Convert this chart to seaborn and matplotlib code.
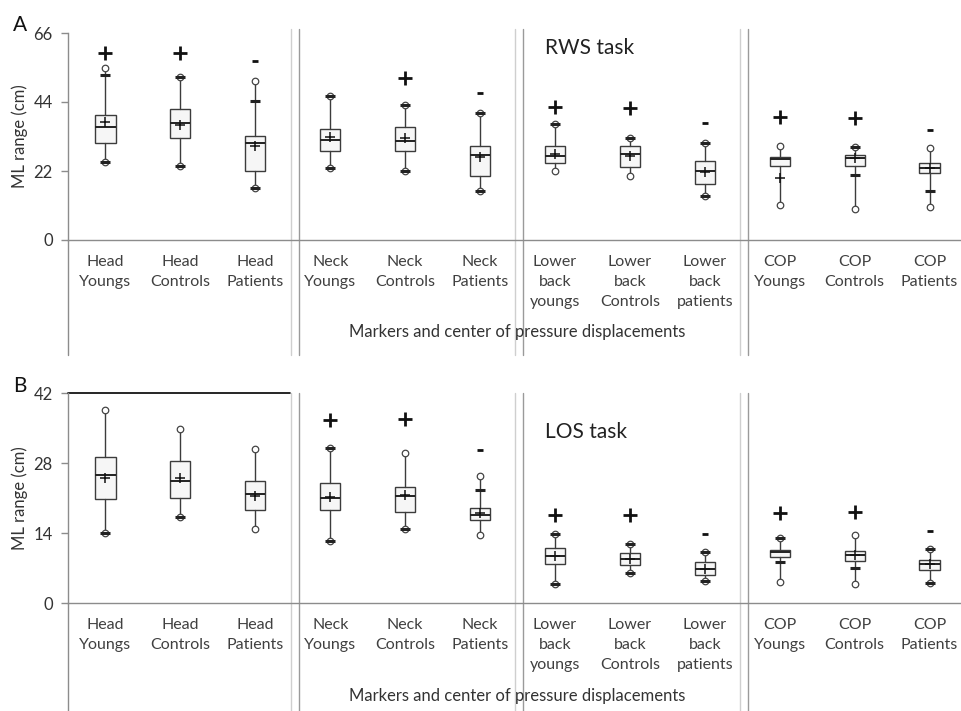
import numpy as np
import pandas as pd
import matplotlib.pyplot as plt
import matplotlib.transforms as mtransforms
import seaborn as sns

nan = np.nan

# category labels (shared by both panels)
labels = ["Head\nYoungs", "Head\nControls", "Head\nPatients",
          "Neck\nYoungs", "Neck\nControls", "Neck\nPatients",
          "Lower\nback\nyoungs", "Lower\nback\nControls", "Lower\nback\npatients",
          "COP\nYoungs", "COP\nControls", "COP\nPatients"]

# Panel A - RWS task (ML range, cm)
hi_circ_a = [54.7, 51.9, 50.8, 46.0, 43.0, 40.6, 37.0, 32.4, 30.8, 30.1, 29.6, 29.2]
hi_dash_a = [52.5, 51.9, 44.3, 46.0, 43.0, 40.6, 37.0, 32.4, 30.8, nan, 29.6, nan]
q3_a = [39.9, 41.7, 33.3, 35.4, 36.1, 30.0, 30.0, 30.0, 25.3, 26.6, 27.1, 24.5]
med_a = [36.1, 37.2, 30.8, 31.9, 31.7, 27.1, 26.8, 27.4, 22.1, 25.8, 26.0, 22.9]
mean_a = [37.7, 36.7, 30.0, 32.9, 32.6, 26.4, 27.4, 26.8, 21.6, 19.9, 26.0, 22.9]
q1_a = [30.8, 32.4, 22.0, 28.5, 28.5, 20.4, 24.5, 23.4, 17.9, 23.7, 23.7, 21.3]
lo_dash_a = [25.0, 23.7, 16.5, 23.1, 22.0, 15.7, nan, nan, 14.0, nan, 20.7, 15.6]
lo_circ_a = [25.0, 23.7, 16.5, 23.1, 22.0, 15.7, 22.0, 20.4, 14.0, 11.2, 9.8, 10.4]
sig_a = ["+", "+", "-", "", "+", "-", "+", "+", "-", "+", "+", "-"]
sig_y_a = [59.5, 59.5, 57.2, nan, 51.6, 47.0, 42.3, 42.0, 37.2, 39.1, 38.8, 35.1]

# Panel B - LOS task (ML range, cm)
hi_circ_b = [38.6, 34.9, 30.8, 31.1, 30.1, 25.5, 13.9, 11.9, 10.3, 13.1, 13.6, 10.9]
hi_dash_b = [nan, nan, nan, 31.1, nan, 22.6, 13.9, 11.9, 10.3, 13.1, nan, 10.9]
q3_b = [29.3, 28.5, 24.4, 24.1, 23.3, 19.1, 11.1, 10.1, 8.3, 10.6, 10.5, 8.7]
med_b = [25.7, 24.4, 21.8, 21.1, 21.4, 17.6, 9.4, 8.9, 6.9, 10.3, 9.6, 7.9]
mean_b = [25.1, 25.1, 21.4, 21.3, 21.6, 18.1, 9.4, 8.9, 6.9, nan, 9.6, 7.9]
q1_b = [20.9, 21.1, 18.6, 18.6, 18.3, 16.6, 7.9, 7.7, 5.6, 9.3, 8.4, 6.6]
lo_dash_b = [14.1, 17.3, nan, 12.5, 14.9, nan, 3.8, 6.1, 4.5, 8.3, 7.1, 4.1]
lo_circ_b = [14.1, 17.3, 14.9, 12.5, 14.9, 13.7, 3.8, 6.1, 4.5, 4.3, 3.9, 4.1]
sig_b = ["", "", "", "+", "+", "-", "+", "+", "-", "+", "+", "-"]
sig_y_b = [nan, nan, nan, 36.6, 36.8, 30.6, 17.6, 17.7, 13.9, 18.1, 18.3, 14.5]

sns.set_theme(style="white")
plt.rcParams["font.family"] = ["Lato", "DejaVu Sans"]

EDGE = "#3c3c3c"
AXC = "#8c8c8c"


def draw_panel(ax, q1, med, q3, mean, lo_c, hi_c, lo_d, hi_d, sig, sig_y,
               ymax, title, title_y, below):
    n = len(labels)
    stats = []
    for i in range(n):
        stats.append(dict(med=med[i], q1=q1[i], q3=q3[i],
                          whislo=lo_c[i], whishi=hi_c[i], fliers=[]))
    ax.bxp(stats, positions=range(n), widths=0.27, patch_artist=True,
           showcaps=False, showfliers=False,
           boxprops=dict(facecolor="#f6f6f6", edgecolor=EDGE, linewidth=1),
           whiskerprops=dict(color=EDGE, linewidth=1),
           medianprops=dict(color="#222222", linewidth=1.4))

    # whisker-end circles
    pts = pd.DataFrame({"x": list(range(n)) * 2, "y": list(lo_c) + list(hi_c)})
    sns.scatterplot(data=pts, x="x", y="y", ax=ax, marker="o", s=22,
                    facecolor="white", edgecolor="#444444", linewidth=0.9,
                    zorder=4, legend=False)
    # percentile dashes
    for vals in (lo_d, hi_d):
        for i, v in enumerate(vals):
            if not np.isnan(v):
                ax.plot(i, v, marker="_", ms=7, mew=2.2, color="#222222", zorder=5)
    # means
    for i, v in enumerate(mean):
        if not np.isnan(v):
            ax.plot(i, v, marker="+", ms=7, mew=1.1, color="#111111", zorder=5)
    # significance symbols
    for i, (s, v) in enumerate(zip(sig, sig_y)):
        if s == "+":
            ax.plot(i, v, marker="+", ms=10, mew=2.0, color="#111111")
        elif s == "-":
            ax.plot(i, v, marker="_", ms=5, mew=2.0, color="#111111")

    ax.set_xlim(-0.5, n - 0.5)
    ax.set_ylim(0, ymax)
    ax.set_yticks(np.linspace(0, ymax, 4))
    ax.set_yticklabels([str(int(t)) for t in np.linspace(0, ymax, 4)])
    ax.set_xticks(range(n))
    ax.set_xticklabels(labels, fontsize=11.5, color="#404040", linespacing=1.55,
                       va="top")
    ax.set_xticks(np.arange(-0.5, n, 1), minor=True)
    ax.tick_params(axis="x", which="major", length=0, pad=11)
    ax.tick_params(axis="x", which="minor", length=4, color=AXC, width=1)
    ax.tick_params(axis="y", length=5, color=AXC, width=1, pad=6,
                   labelsize=12, labelcolor="#333333", left=True)
    for sp in ("top", "right"):
        ax.spines[sp].set_visible(False)
    for sp in ("left", "bottom"):
        ax.spines[sp].set_color(AXC)
        ax.spines[sp].set_linewidth(1)
    ax.set_xlabel("")
    ax.set_ylabel("ML range (cm)", fontsize=12, color="#333333", labelpad=4)

    trans = mtransforms.blended_transform_factory(ax.transData, ax.transAxes)
    top = 1.02 if title.startswith("RWS") else 1.0
    # y axis continued below, group separators
    ax.plot([-0.5, -0.5], [below, 0], transform=trans, color=AXC, lw=1,
            clip_on=False)
    for b in (2.5, 5.5, 8.5):
        ax.plot([b - 0.03, b - 0.03], [below, top], transform=trans,
                color="#cfcfcf", lw=1, clip_on=False)
        ax.plot([b + 0.08, b + 0.08], [below, top], transform=trans,
                color="#9a9a9a", lw=1, clip_on=False)

    ax.text(0.531, title_y, title, transform=ax.transAxes, fontsize=15,
            color="#222222", va="center", ha="left")
    ax.text(0.5, -0.445, "Markers and center of pressure displacements",
            transform=ax.transAxes, fontsize=12, color="#333333",
            ha="center", va="center")


fig = plt.figure(figsize=(9.61, 7.11), dpi=100)
ax_a = fig.add_axes([68 / 961, 1 - 240 / 711, 899 / 961, 207 / 711])
ax_b = fig.add_axes([68 / 961, 1 - 603 / 711, 899 / 961, 210 / 711])

draw_panel(ax_a, q1_a, med_a, q3_a, mean_a, lo_circ_a, hi_circ_a,
           lo_dash_a, hi_dash_a, sig_a, sig_y_a, 66, "RWS task", 0.927, -0.556)
draw_panel(ax_b, q1_b, med_b, q3_b, mean_b, lo_circ_b, hi_circ_b,
           lo_dash_b, hi_dash_b, sig_b, sig_y_b, 42, "LOS task", 0.814, -0.514)

# odd black line on top of panel B
ax_b.plot([-0.5, 2.46], [42, 42], color="black", lw=1.2, clip_on=False)

fig.text(13 / 961, 1 - 25 / 711, "A", fontsize=15, color="#111111",
         va="center", ha="left")
fig.text(13 / 961, 1 - 386 / 711, "B", fontsize=15, color="#111111",
         va="center", ha="left")

fig.savefig("out.png", dpi=100)
